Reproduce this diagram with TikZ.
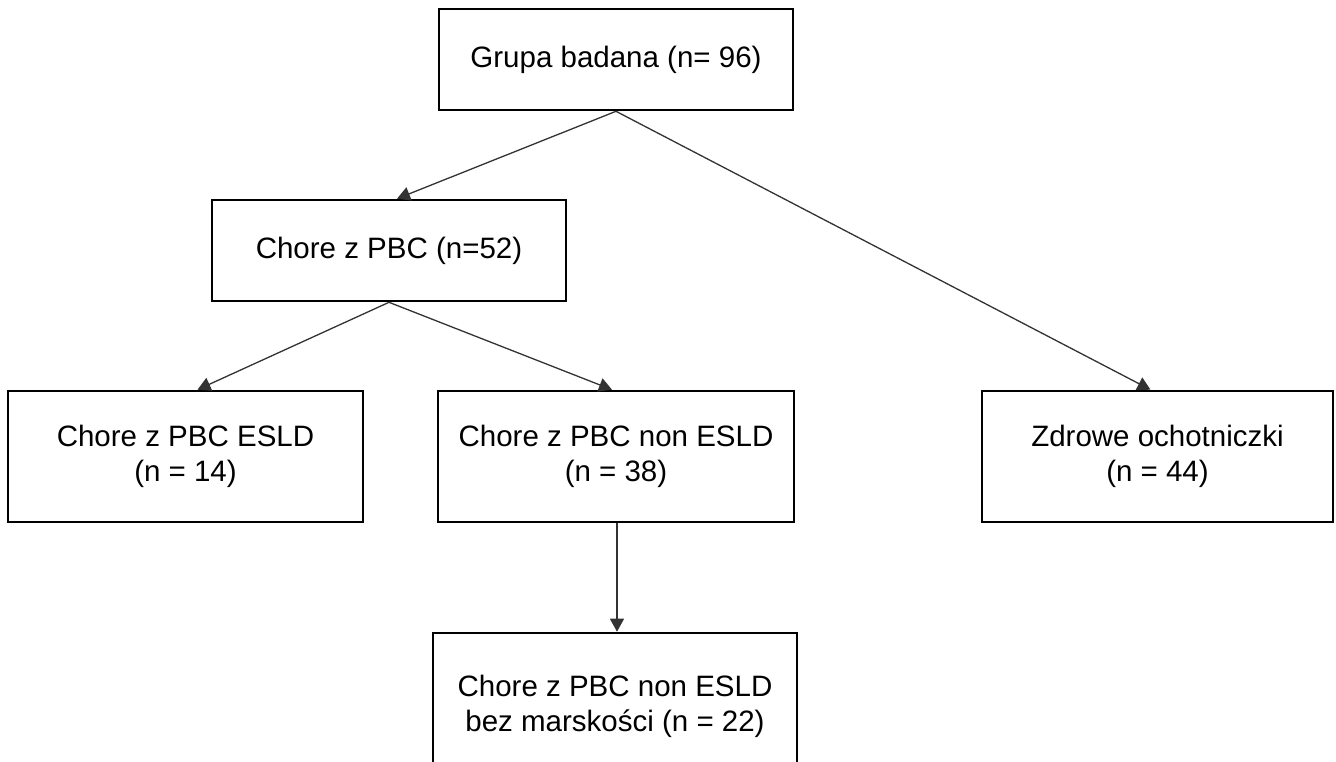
\documentclass[tikz,border=0pt]{standalone}
\usepackage{fontspec}
\setmainfont{Liberation Sans}
\usetikzlibrary{arrows.meta,calc}
\begin{document}
\begin{tikzpicture}[x=1pt,y=-1pt,
  box/.style={draw=black, line width=2.6pt, fill=white, align=center, inner sep=0pt,
    font=\fontsize{29.5pt}{35pt}\selectfont},
  onebox/.style={box, minimum height=101pt},
  twobox/.style={box, minimum height=131pt},
  conn/.style={draw=black!80, line width=1.3pt, -{Triangle[length=13pt,width=14pt]}}]
\useasboundingbox[fill=white] (0,0) rectangle (1336,762);
\node[onebox, minimum width=354pt] (top) at (616,59.5) {Grupa badana (n= 96)};
\node[onebox, minimum width=354pt] (chore) at (389,250.5) {Chore z PBC (n=52)};
\node[twobox, minimum width=355pt] (esld) at (185.5,456.5) {Chore z PBC ESLD\\(n = 14)};
\node[twobox, minimum width=356pt] (non) at (616,456.5) {Chore z PBC non ESLD\\(n = 38)};
\node[twobox, minimum width=351pt] (zdr) at (1157.5,456.5) {Zdrowe ochotniczki\\(n = 44)};
\node[box, minimum height=147pt, minimum width=364pt] (bez) at (615,706.5) {Chore z PBC non ESLD\\bez marskości (n = 22)};
\draw[conn] (top.south) -- ([xshift=8pt]chore.north);
\draw[conn] (top.south) -- ([xshift=-7pt]zdr.north);
\draw[conn] (chore.south) -- ([xshift=12pt]esld.north);
\draw[conn] (chore.south) -- ([xshift=-4pt]non.north);
\draw[conn] ([xshift=1pt]non.south) -- ([xshift=2pt]bez.north);
\end{tikzpicture}
\end{document}
